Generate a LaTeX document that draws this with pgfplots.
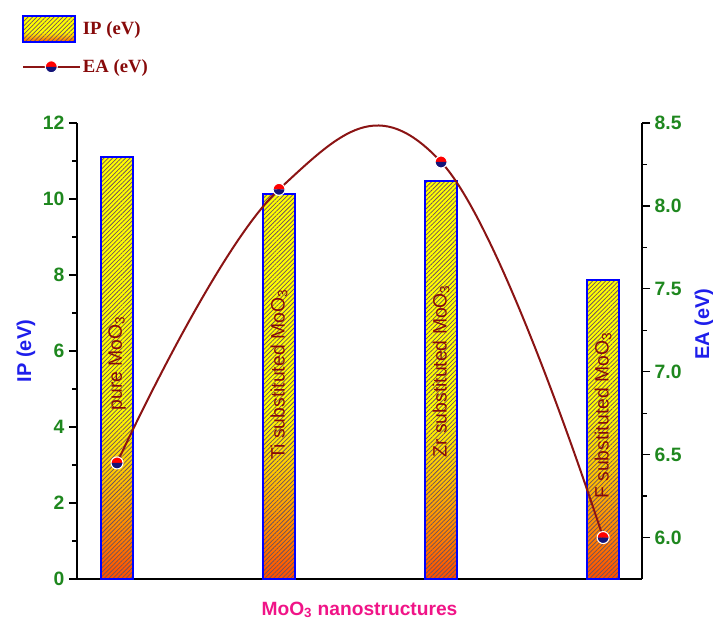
\documentclass[border=0pt]{standalone}
\usepackage{pgfplots}
\pgfplotsset{compat=1.18}
\usepackage{fontspec}
\setmainfont{Liberation Sans}
\newfontfamily\serifb{Liberation Serif}
\usetikzlibrary{patterns.meta,plotmarks}
\definecolor{tickgreen}{RGB}{30,135,30}
\definecolor{lblblue}{RGB}{30,30,235}
\definecolor{xpink}{RGB}{240,20,135}
\definecolor{curvered}{RGB}{139,20,20}
\definecolor{txtred}{RGB}{135,10,10}
\definecolor{hatch}{RGB}{110,80,95}
\definecolor{navyb}{RGB}{20,20,120}
\pgfdeclareverticalshading{barshade}{100bp}{color(0bp)=(red); color(25bp)=(orange!60!red); color(30bp)=(orange); color(38bp)=(orange!40!yellow); color(45bp)=(yellow); color(100bp)=(yellow)}
\tikzset{
 ipbar/.style={draw=blue, line width=1.5pt, preaction={shade, shading=barshade},
   pattern={Lines[angle=45,distance=2.3pt,line width=0.55pt]}, pattern color=hatch},
 barlabel/.style={rotate=90, text=txtred, font=\fontsize{14.5}{16}\selectfont},
}
\pgfplotsset{
 barlegend/.style={legend image code/.code={\path[##1] (0pt,-9.75pt) rectangle (39pt,9.75pt);}},
 linelegend/.style={legend image code/.code={\draw[mark repeat=2,mark phase=2,##1] plot coordinates {(0pt,0pt) (21pt,0pt) (42pt,0pt)};}},
 common/.style={
  at={(0,0)}, anchor=south west,
  scale only axis, width=423.75pt, height=342pt,
  xmin=0.753, xmax=4.24,
  tick align=outside,
  major tick length=6pt, minor tick length=3.5pt,
  every tick/.style={black, line width=1pt},
  axis line style={line width=1.5pt, -},
  minor y tick num=1,
  /pgf/number format/assume math mode=true,
  yticklabel style={font=\bfseries\fontsize{14.5}{16}\selectfont, text=tickgreen},
  ylabel style={font=\bfseries\fontsize{15}{17}\selectfont, text=lblblue},
 },
}
\begin{document}
\begin{tikzpicture}
\begin{axis}[common,
  ymin=0, ymax=12,
  axis x line*=bottom, axis y line*=left,
  xtick=\empty,
  ytick={0,2,...,12},
  ylabel={IP (eV)},
  ylabel style={at={(axis description cs:-0.081,0.5)}, anchor=base},
  xlabel={MoO\textsubscript{3} nanostructures},
  xlabel style={at={(axis description cs:0.5,-0.079)}, anchor=base, font=\bfseries\fontsize{14.4}{16}\selectfont, text=xpink},
]
\addplot[ybar, bar width=0.2, ipbar] coordinates {(1,11.1) (2,10.13) (3,10.47) (4,7.87)};
\node[barlabel] at (axis cs:1,5.68) {pure MoO\textsubscript{3}};
\node[barlabel] at (axis cs:2,5.38) {Ti substituted MoO\textsubscript{3}};
\node[barlabel] at (axis cs:3,5.47) {Zr substituted MoO\textsubscript{3}};
\node[barlabel] at (axis cs:4,4.3) {F substituted MoO\textsubscript{3}};
\end{axis}
\begin{axis}[common,
  ymin=5.75, ymax=8.5,
  axis x line=none, axis y line*=right,
  ytick={6,6.5,...,8.5},
  yticklabel style={/pgf/number format/.cd, fixed, fixed zerofill, precision=1},
  ylabel={EA (eV)},
  ylabel style={at={(axis description cs:1.1186,0.559)}, anchor=base},
  legend style={draw=none, fill=none, at={(axis description cs:-0.0973,1.2368)}, anchor=north west,
    font=\serifb\bfseries\fontsize{14}{16}\selectfont, text=txtred, inner sep=0pt, row sep=10pt},
  legend cell align=left,
]
\addlegendimage{ipbar, barlegend}
\addplot[smooth, tension=0.7, color=curvered, line width=1.5pt,
  mark=halfcircle*, mark size=4.5pt,
  mark options={solid, fill=red, mark color=navyb, draw=white, line width=0.8pt},
  linelegend]
  coordinates {(1,6.45) (2,8.10) (3,8.265) (4,6.0)};
\legend{IP (eV), EA (eV)}
\end{axis}
\pgfresetboundingbox
\path[use as bounding box] (-57.75pt,-32.25pt) rectangle (477pt,434.25pt);
\end{tikzpicture}
\end{document}
